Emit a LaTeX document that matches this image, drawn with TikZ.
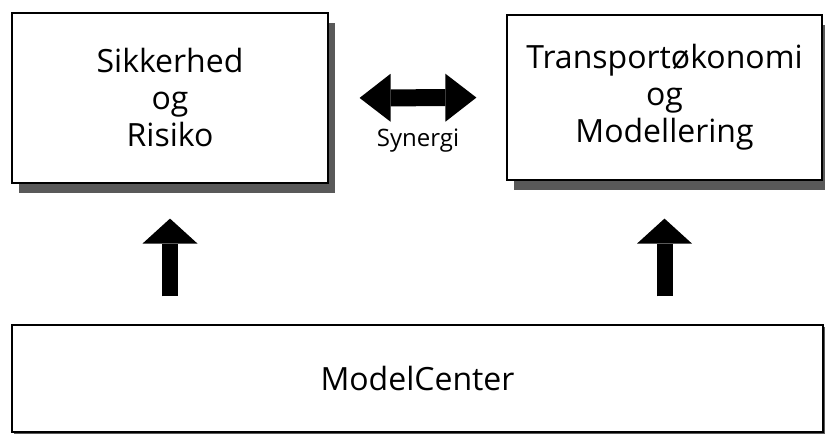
\documentclass[tikz,border=0pt]{standalone}
\usepackage{fontspec}
\setmainfont{Open Sans}
\usetikzlibrary{arrows.meta,shadows,positioning}

\tikzset{
  fagbox/.style={draw=black, line width=1.2pt, fill=white, align=center,
    inner sep=0pt, font=\fontsize{32}{37}\selectfont,
    general shadow={fill=black!65, shadow xshift=7pt, shadow yshift=-10pt}},
  modelbox/.style={draw=black, line width=1.2pt, fill=white, inner sep=0pt,
    font=\fontsize{32}{37}\selectfont,
    general shadow={fill=black!65, shadow xshift=2pt, shadow yshift=-2pt}},
  blokpil/.style={line width=16pt, -{Triangle[width=55pt,length=25pt,line width=0pt]}},
  tvepil/.style={line width=17pt,
    {Triangle[width=48pt,length=31pt,line width=0pt]}-{Triangle[width=48pt,length=31pt,line width=0pt]},
    shorten <=31pt, shorten >=30pt},
}

\begin{document}
\begin{tikzpicture}[x=1pt,y=-1pt]
  %%%%% START %%%%%
  \useasboundingbox (0,0) rectangle (825,435);

  \node[fagbox, minimum width=316pt, minimum height=170pt] (sik) at (170,98)
    {Sikkerhed\\og\\Risiko};
  \node[fagbox, minimum width=315pt, minimum height=165pt] (trans) at (664.5,97.5)
    {Transportøkonomi\\og\\Modellering};
  \node[modelbox, minimum width=811pt, minimum height=107pt] (model) at (417.5,378.5)
    {ModelCenter};

  \draw[tvepil] (sik.east) -- (trans.west);
  \node[font=\fontsize{24}{28}\selectfont] (syn) at (418,141) {Synergi};

  \draw[blokpil] ([yshift=28pt]model.north -| sik.south) -- ([yshift=-35pt]sik.south);
  \draw[blokpil] ([yshift=28pt]model.north -| trans.south) -- ([yshift=-38pt]trans.south);

  %%%%% END %%%%%
\end{tikzpicture}
\end{document}
